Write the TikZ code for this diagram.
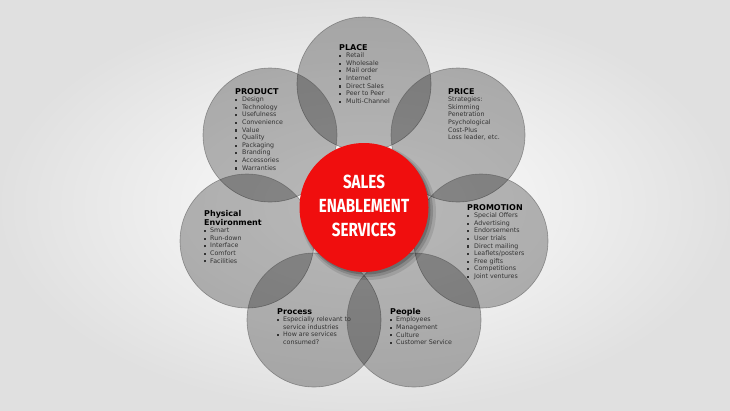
\documentclass[tikz,border=0pt]{standalone}
\usepackage{fontspec}
\setmainfont{DejaVu Sans}
\newfontfamily\condfont[FakeStretch=0.8]{Fira Sans}
\usetikzlibrary{shadings}
\definecolor{redc}{RGB}{240,14,14}
\newcommand\bl[1][7pt]{\makebox[#1][l]{\raisebox{0.6pt}{\rule{2.1pt}{2.1pt}}}}
\newcommand\ttl[1]{{\fontsize{8}{9}\selectfont\bfseries\color{black}#1}}
\tikzset{
  petal/.style={circle, minimum size=134pt, inner sep=0, fill=black, fill opacity=0.27, draw=black!70, draw opacity=0.5, line width=0.6pt},
  txt/.style={anchor=north west, inner sep=0, align=left, font=\fontsize{6.3}{7.6}\selectfont, text=black!80},
  hub/.style={circle, minimum size=129pt, inner sep=0, fill=redc},
  hubtext/.style={align=center, inner sep=0, font=\condfont\bfseries\fontsize{19}{24}\selectfont, text=white}
}
\begin{document}
\begin{tikzpicture}[x=1pt,y=-1pt]
\useasboundingbox (0,0) rectangle (730,410);
\shade[inner color=white, outer color=black!12] (0,0) rectangle (730,410);
% petals
\node[petal] (place) at (364,84) {};
\node[petal] (product) at (270,135) {};
\node[petal] (price) at (458,135) {};
\node[petal] (phys) at (247,241) {};
\node[petal] (promo) at (481,241) {};
\node[petal] (process) at (314,320) {};
\node[petal] (people) at (414,320) {};
% hub shadow
\fill[black, opacity=0.1] (368,212) circle (68);
\fill[black, opacity=0.15] (367,211) circle (66);
\fill[black, opacity=0.2] (366,210) circle (64.5);
\node[hub] (hub) at (364,207.5) {};
\node[hubtext] (hubt) at (364,206) {SALES\\ENABLEMENT\\SERVICES};
% texts
\node[txt] (tplace) at (339,44) {\ttl{PLACE}\\\bl Retail\\\bl Wholesale\\\bl Mail order\\\bl Internet\\\bl Direct Sales\\\bl Peer to Peer\\\bl Multi-Channel};
\node[txt] (tproduct) at (235,88) {\ttl{PRODUCT}\\\bl Design\\\bl Technology\\\bl Usefulness\\\bl Convenience\\\bl Value\\\bl Quality\\\bl Packaging\\\bl Branding\\\bl Accessories\\\bl Warranties};
\node[txt] (tprice) at (448,88) {\ttl{PRICE}\\Strategies:\\Skimming\\Penetration\\Psychological\\Cost-Plus\\Loss leader, etc.};
\node[txt] (tphys) at (204,210) {\ttl{Physical}\\\ttl{Environment}\\\bl[6pt]Smart\\\bl[6pt]Run-down\\\bl[6pt]Interface\\\bl[6pt]Comfort\\\bl[6pt]Facilities};
\node[txt] (tpromo) at (467,204) {\ttl{PROMOTION}\\\bl Special Offers\\\bl Advertising\\\bl Endorsements\\\bl User trials\\\bl Direct mailing\\\bl Leaflets/posters\\\bl Free gifts\\\bl Competitions\\\bl Joint ventures};
\node[txt] (tprocess) at (277,308) {\ttl{Process}\\\bl[6pt]Especially relevant to\\\hspace*{6pt}service industries\\\bl[6pt]How are services\\\hspace*{6pt}consumed?};
\node[txt] (tpeople) at (390,308) {\ttl{People}\\\bl[6pt]Employees\\\bl[6pt]Management\\\bl[6pt]Culture\\\bl[6pt]Customer Service};
\end{tikzpicture}
\end{document}
